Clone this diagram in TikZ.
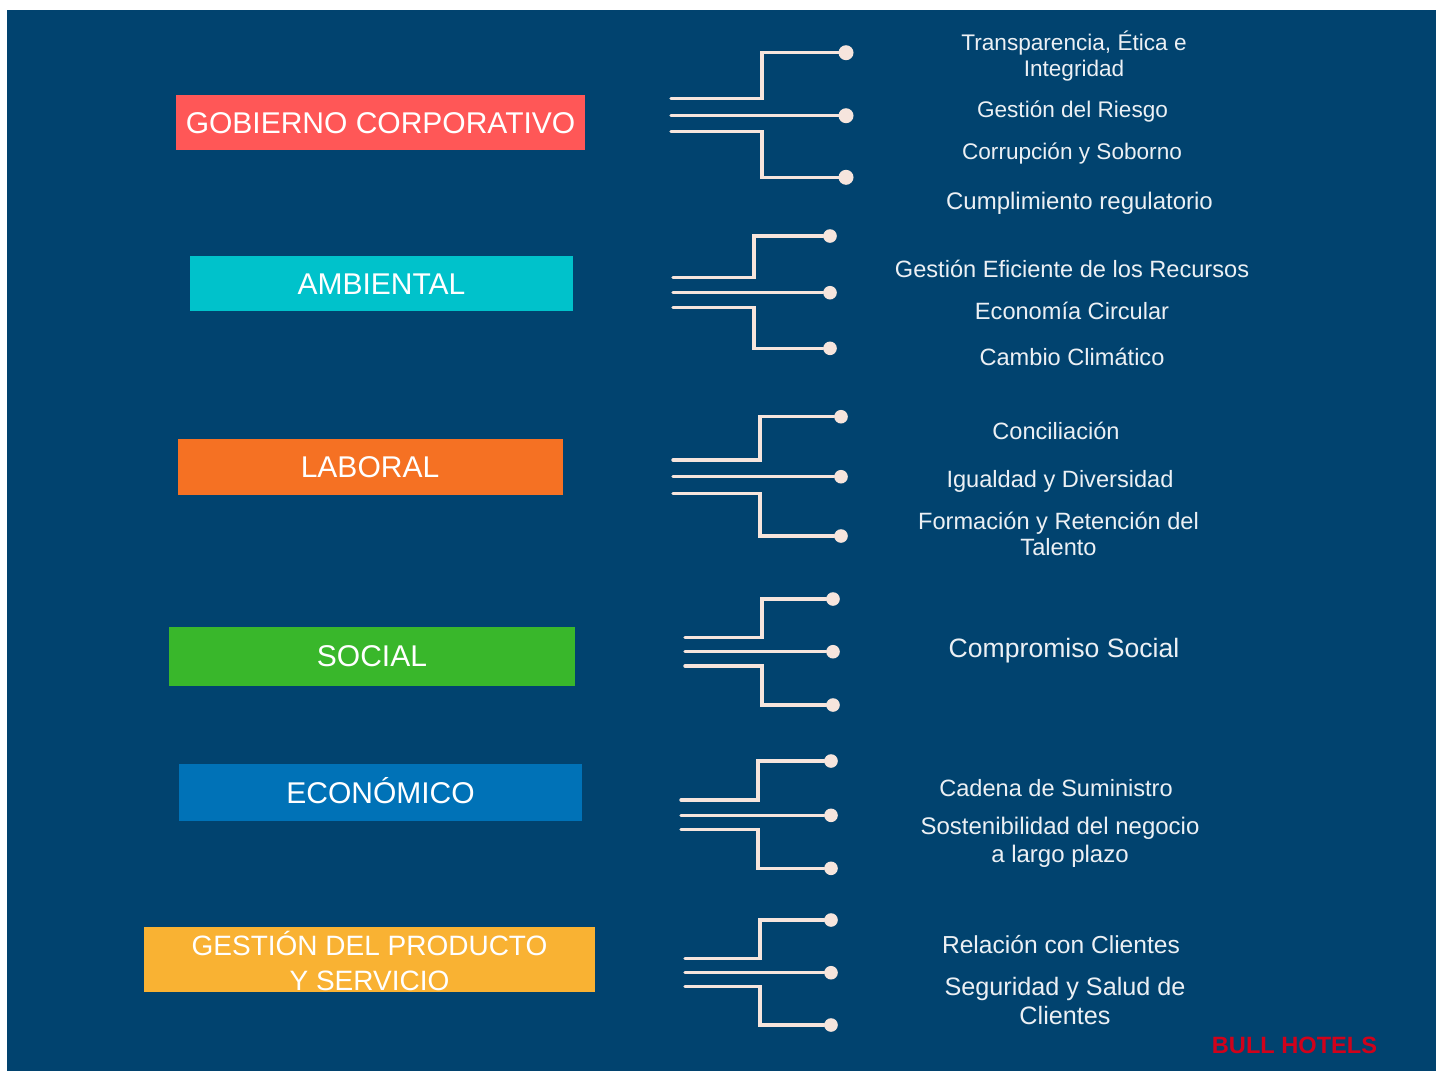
\documentclass[tikz,border=0pt]{standalone}
\usepackage{fontspec}
\setmainfont{Liberation Sans}

\definecolor{navy}{RGB}{1,67,111}
\definecolor{gobred}{RGB}{255,87,87}
\definecolor{ambcyan}{RGB}{0,194,203}
\definecolor{laborange}{RGB}{245,113,35}
\definecolor{socgreen}{RGB}{57,183,43}
\definecolor{ecoblue}{RGB}{0,114,183}
\definecolor{prodyellow}{RGB}{249,178,51}
\definecolor{wirecol}{RGB}{246,229,221}
\definecolor{itemtext}{RGB}{236,240,244}
\definecolor{brandred}{RGB}{208,2,27}

\begin{document}
\begin{tikzpicture}[
    x=0.5pt, y=-0.5pt,
    every node/.style={inner sep=0pt, outer sep=0pt},
    cat/.style={rectangle, text=white, align=center, font=\fontsize{15}{17.5}\selectfont,
                text height=10.7pt, text depth=0pt},
    item/.style={anchor=base, text=itemtext, align=center, font=\fontsize{11.8}{13}\selectfont},
    itemsm/.style={item, font=\fontsize{11.3}{13.3}\selectfont},
    itemlg/.style={item, font=\fontsize{13.3}{14.5}\selectfont},
    wire/.style={draw=wirecol, line width=1.7pt, line cap=round},
    dot/.style={circle, fill=wirecol, minimum size=6.8pt},
    brand/.style={anchor=base, text=brandred, font=\fontsize{11.8}{14}\selectfont\bfseries}
]

\useasboundingbox (0,0) rectangle (1443,1071);
\fill[navy] (7,10) rectangle (1436,1071);

% category boxes
\node[cat, fill=gobred, minimum width=204.5pt, minimum height=27.5pt] (GOB) at (380.5,122.5) {GOBIERNO CORPORATIVO};
\node[cat, fill=ambcyan, minimum width=191.5pt, minimum height=27.5pt] (AMB) at (381.5,283.5) {AMBIENTAL};
\node[cat, fill=laborange, minimum width=192.5pt, minimum height=27.75pt] (LAB) at (370,467) {LABORAL};
\node[cat, fill=socgreen, minimum width=203pt, minimum height=29.5pt] (SOC) at (372,656) {SOCIAL};
\node[cat, fill=ecoblue, minimum width=201.5pt, minimum height=28.5pt] (ECO) at (380.5,792.5) {ECONÓMICO};
\node[cat, fill=prodyellow, minimum width=225.5pt, minimum height=32.5pt,
      font=\fontsize{14}{17.5}\selectfont, text height=30.5pt, text depth=0pt] (PROD) at (369.5,959.5)
      {GESTIÓN DEL PRODUCTO\\Y SERVICIO};

% branch connectors
\coordinate (g1a) at (671,98.3);
\coordinate (g1b) at (671,115.7);
\coordinate (g1c) at (671,131.7);
\node[dot, minimum size=7.5pt] (g1p) at (846,52.7) {};
\node[dot, minimum size=7.5pt] (g1q) at (846,115.7) {};
\node[dot, minimum size=7.5pt] (g1r) at (846,177.3) {};
\draw[wire] (g1a) -- ++(91,0) |- (g1p);
\draw[wire] (g1b) -- (g1q);
\draw[wire] (g1c) -- ++(91,0) |- (g1r);

\coordinate (g2a) at (673,277.7);
\coordinate (g2b) at (673,292.7);
\coordinate (g2c) at (673,307.7);
\node[dot] (g2p) at (830,236) {};
\node[dot] (g2q) at (830,292.7) {};
\node[dot] (g2r) at (830,348.3) {};
\draw[wire] (g2a) -- ++(81,0) |- (g2p);
\draw[wire] (g2b) -- (g2q);
\draw[wire] (g2c) -- ++(81,0) |- (g2r);

\coordinate (g3a) at (673,460);
\coordinate (g3b) at (673,476.7);
\coordinate (g3c) at (673,493.3);
\node[dot] (g3p) at (841,416.7) {};
\node[dot] (g3q) at (841,476.7) {};
\node[dot] (g3r) at (841,536) {};
\draw[wire] (g3a) -- ++(87,0) |- (g3p);
\draw[wire] (g3b) -- (g3q);
\draw[wire] (g3c) -- ++(87,0) |- (g3r);

\coordinate (g4a) at (685,637.3);
\coordinate (g4b) at (685,651.7);
\coordinate (g4c) at (685,666);
\node[dot] (g4p) at (833,599) {};
\node[dot] (g4q) at (833,651.7) {};
\node[dot] (g4r) at (833,705) {};
\draw[wire] (g4a) -- ++(77,0) |- (g4p);
\draw[wire] (g4b) -- (g4q);
\draw[wire] (g4c) -- ++(77,0) |- (g4r);

\coordinate (g5a) at (681,800);
\coordinate (g5b) at (681,815.3);
\coordinate (g5c) at (681,829.3);
\node[dot] (g5p) at (831,761) {};
\node[dot] (g5q) at (831,815.3) {};
\node[dot] (g5r) at (831,868.3) {};
\draw[wire] (g5a) -- ++(77,0) |- (g5p);
\draw[wire] (g5b) -- (g5q);
\draw[wire] (g5c) -- ++(77,0) |- (g5r);

\coordinate (g6a) at (685,958.3);
\coordinate (g6b) at (685,972.7);
\coordinate (g6c) at (685,986.7);
\node[dot] (g6p) at (831,920) {};
\node[dot] (g6q) at (831,972.7) {};
\node[dot] (g6r) at (831,1025) {};
\draw[wire] (g6a) -- ++(75,0) |- (g6p);
\draw[wire] (g6b) -- (g6q);
\draw[wire] (g6c) -- ++(75,0) |- (g6r);

% topics (two-line nodes sit on the baseline of their last line)
\node[itemsm] (TRA) at (1074,76.7) {Transparencia, Ética e\\Integridad};
\node[itemsm] (RIE) at (1072.5,117.3) {Gestión del Riesgo};
\node[itemsm] (COR) at (1072,159.3) {Corrupción y Soborno};
\node[item, font=\fontsize{12}{14}\selectfont] (CUM) at (1079.5,209) {Cumplimiento regulatorio};

\node[item] (REC) at (1072,277) {Gestión Eficiente de los Recursos};
\node[item] (CIR) at (1072,319) {Economía Circular};
\node[item] (CLI) at (1072,365) {Cambio Climático};

\node[item] (CON) at (1056,439.3) {Conciliación};
\node[item] (IGU) at (1060,487.3) {Igualdad y Diversidad};
\node[item] (FOR) at (1058.5,555) {Formación y Retención del\\Talento};

\node[itemlg] (COM) at (1064,657) {Compromiso Social};

\node[item] (CAD) at (1056,796) {Cadena de Suministro};
\node[item, font=\fontsize{12}{14}\selectfont] (SOS) at (1060,862) {Sostenibilidad del negocio\\a largo plazo};

\node[item, font=\fontsize{12.3}{14.5}\selectfont] (RCL) at (1061,953) {Relación con Clientes};
\node[item, font=\fontsize{12.6}{14.5}\selectfont] (SEG) at (1065,1024) {Seguridad y Salud de\\Clientes};

\node[brand] (BULL) at (1294.5,1053) {BULL HOTELS};

\end{tikzpicture}
\end{document}
